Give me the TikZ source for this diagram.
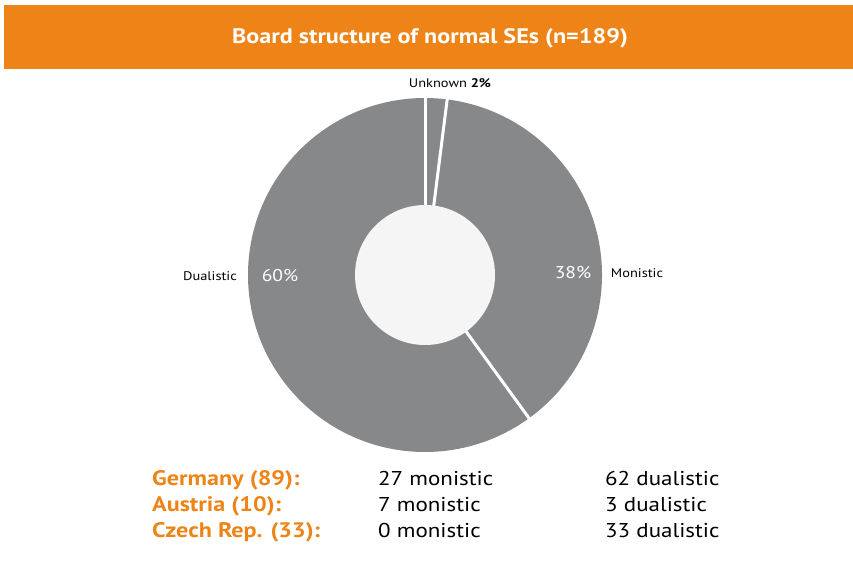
\documentclass[tikz,border=0pt]{standalone}
\usepackage{fontspec}
\setmainfont{PT Sans}[FakeStretch=1.15]
\definecolor{seorange}{HTML}{EE8418}
\definecolor{segray}{HTML}{87888A}
\definecolor{sehole}{HTML}{F5F5F5}
\begin{document}
\begin{tikzpicture}[x=1pt,y=1pt,
  slice/.style={fill=segray},
  sep/.style={white,line width=3pt},
  lbl/.style={font=\fontsize{12.5}{14}\selectfont,inner sep=0pt},
  pct/.style={font=\fontsize{17}{19}\selectfont,text=white,inner sep=0pt},
  country/.style={font=\fontsize{21}{23}\selectfont\bfseries,text=seorange,anchor=base west,inner sep=0pt},
  count/.style={font=\fontsize{20}{22}\selectfont,anchor=base west,inner sep=0pt}]
\useasboundingbox (0,0) rectangle (853,574);
% header
\fill[seorange] (4,505) rectangle (853,569);
\node[font=\fontsize{21}{23}\selectfont\bfseries,text=white] (title) at (430,536) {Board structure of normal SEs (n=189)};
% donut
\coordinate (c) at (425,299);
\def\R{177}
\fill[slice] (c) -- ++(82.8:\R) arc[start angle=82.8,end angle=90,radius=\R] -- cycle;
\fill[slice] (c) -- ++(-54:\R) arc[start angle=-54,end angle=82.8,radius=\R] -- cycle;
\fill[slice] (c) -- ++(90:\R) arc[start angle=90,end angle=306,radius=\R] -- cycle;
\draw[sep] (c) -- ++(90:\R+2);
\draw[sep] (c) -- ++(82.8:\R+2);
\draw[sep] (c) -- ++(-54:\R+2);
\fill[sehole] (c) circle[radius=70];
% labels
\node[lbl] (unk) at (450,491) {Unknown \textbf{2\%}};
\node[lbl] (dual) at (210,298) {Dualistic};
\node[pct] (p60) at (280,298) {60\%};
\node[pct] (p38) at (573,301) {38\%};
\node[lbl] (mon) at (637,301) {Monistic};
% table
\node[country] (de) at (152,89) {Germany (89):};
\node[country] (at) at (152,63) {Austria (10):};
\node[country] (cz) at (152,37) {Czech Rep. (33):};
\node[count] (dem) at (378,89) {27 monistic};
\node[count] (atm) at (378,63) {7 monistic};
\node[count] (czm) at (378,37) {0 monistic};
\node[count] (ded) at (605,89) {62 dualistic};
\node[count] (atd) at (605,63) {3 dualistic};
\node[count] (czd) at (605,37) {33 dualistic};
\end{tikzpicture}
\end{document}
